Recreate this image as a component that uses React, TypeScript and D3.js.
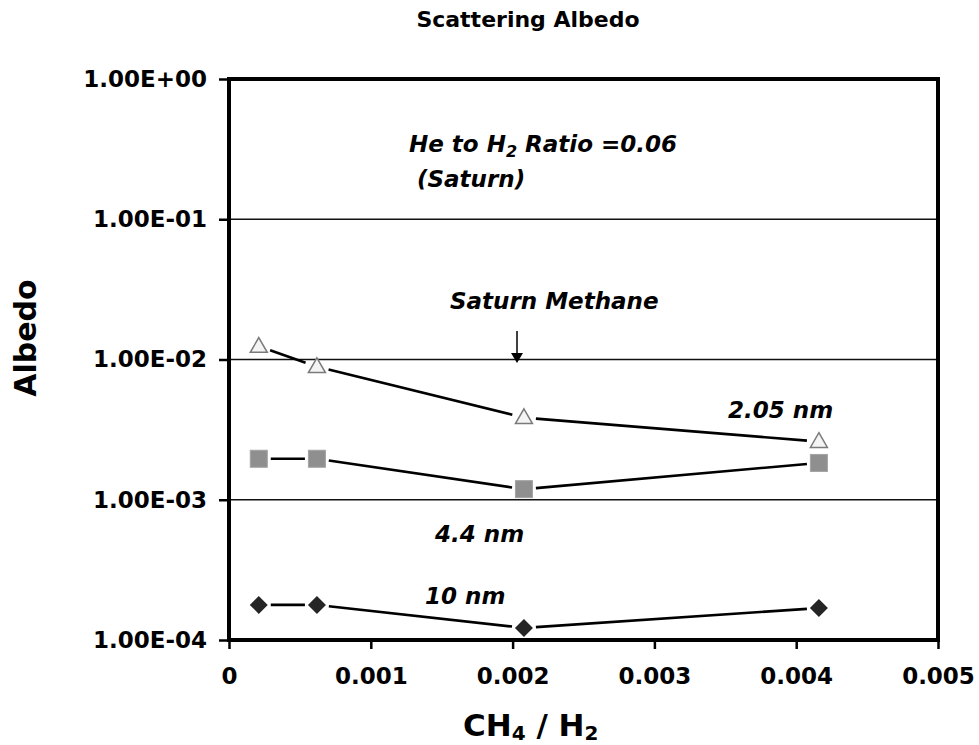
import { useRef, useEffect } from 'react'
import * as d3 from 'd3'

// CH4 / H2 mixing ratios
const ratios = [0.00021, 0.00062, 0.00208, 0.00416]

// albedo per particle size
const albedo205 = [0.0124, 0.0089, 0.00385, 0.0026]
const albedo44 = [0.00196, 0.00196, 0.00119, 0.00183]
const albedo10 = [0.000178, 0.000178, 0.000122, 0.000169]

const yTicks = [1e-4, 1e-3, 1e-2, 1e-1, 1]
const yTickLabels = ['1.00E-04', '1.00E-03', '1.00E-02', '1.00E-01', '1.00E+00']
const xTicks = [0, 0.001, 0.002, 0.003, 0.004, 0.005]
const xTickLabels = ['0', '0.001', '0.002', '0.003', '0.004', '0.005']

const FONT = '"DejaVu Sans", Verdana, sans-serif'

export default function App() {
  const svgRef = useRef<SVGSVGElement>(null)

  useEffect(() => {
    if (!svgRef.current) return
    const width = 979
    const height = 745
    const left = 229, right = 938, top = 79, bottom = 640

    const svg = d3.select(svgRef.current)
    svg.selectAll('*').remove()
    svg.attr('width', width).attr('height', height)

    svg.append('rect').attr('width', width).attr('height', height).attr('fill', '#fff')

    const x = d3.scaleLinear().domain([0, 0.005]).range([left, right])
    const y = d3.scaleLog().domain([1e-4, 1]).range([bottom, top])

    // gridlines
    svg.append('g')
      .selectAll('line')
      .data(yTicks.slice(1, 4))
      .enter()
      .append('line')
      .attr('x1', left).attr('x2', right)
      .attr('y1', d => y(d)).attr('y2', d => y(d))
      .attr('stroke', '#111').attr('stroke-width', 1.5)

    // y axis
    const yAxis = d3.axisLeft(y)
      .tickValues(yTicks)
      .tickSize(10)
      .tickPadding(12)
      .tickFormat((_, i) => yTickLabels[i])
    const gy = svg.append('g').attr('transform', `translate(${left},0)`).call(yAxis)
    gy.select('.domain').remove()
    gy.selectAll('.tick line').attr('stroke', '#000').attr('stroke-width', 2.5)
    gy.selectAll('.tick text')
      .attr('font-family', FONT).attr('font-weight', 'bold')
      .attr('font-size', 23).attr('fill', '#000')

    // x axis
    const xAxis = d3.axisBottom(x)
      .tickValues(xTicks)
      .tickSize(9)
      .tickPadding(19)
      .tickFormat((_, i) => xTickLabels[i])
    const gx = svg.append('g').attr('transform', `translate(0,${bottom})`).call(xAxis)
    gx.select('.domain').remove()
    gx.selectAll('.tick line').attr('stroke', '#000').attr('stroke-width', 2.5)
    gx.selectAll('.tick text')
      .attr('font-family', FONT).attr('font-weight', 'bold')
      .attr('font-size', 23).attr('fill', '#000')

    // plot frame
    svg.append('rect')
      .attr('x', left).attr('y', top)
      .attr('width', right - left).attr('height', bottom - top)
      .attr('fill', 'none').attr('stroke', '#000').attr('stroke-width', 4)

    // series lines, trimmed short of markers
    const drawSeries = (vals: number[]) => {
      const pts = ratios.map((r, i) => [x(r), y(vals[i])] as [number, number])
      const gap = 12
      for (let i = 0; i < pts.length - 1; i++) {
        const [x1, y1] = pts[i]
        const [x2, y2] = pts[i + 1]
        const len = Math.hypot(x2 - x1, y2 - y1)
        const ux = (x2 - x1) / len, uy = (y2 - y1) / len
        svg.append('line')
          .attr('x1', x1 + ux * gap).attr('y1', y1 + uy * gap)
          .attr('x2', x2 - ux * gap).attr('y2', y2 - uy * gap)
          .attr('stroke', '#000').attr('stroke-width', 2.6)
      }
      return pts
    }

    const triPts = drawSeries(albedo205)
    const sqPts = drawSeries(albedo44)
    const diaPts = drawSeries(albedo10)

    svg.append('g').selectAll('path')
      .data(triPts).enter().append('path')
      .attr('d', d3.symbol().type(d3.symbolTriangle).size(125)()!)
      .attr('transform', d => `translate(${d[0]},${d[1] + 1})`)
      .attr('fill', '#f4f4f4').attr('stroke', '#7a7a7a').attr('stroke-width', 1.5)

    svg.append('g').selectAll('rect')
      .data(sqPts).enter().append('rect')
      .attr('x', d => d[0] - 8.5).attr('y', d => d[1] - 8.5)
      .attr('width', 17).attr('height', 17)
      .attr('fill', '#8f8f8f').attr('stroke', '#a3a3a3').attr('stroke-width', 1)

    svg.append('g').selectAll('path')
      .data(diaPts).enter().append('path')
      .attr('d', 'M0,-9L9,0L0,9L-9,0Z')
      .attr('transform', d => `translate(${d[0]},${d[1]})`)
      .attr('fill', '#252525')

    // title
    svg.append('text')
      .attr('x', 528).attr('y', 27)
      .attr('text-anchor', 'middle')
      .attr('font-family', FONT).attr('font-weight', 'bold').attr('font-size', 22)
      .text('Scattering Albedo')

    // axis titles
    svg.append('text')
      .attr('transform', 'translate(36,338) rotate(-90)')
      .attr('text-anchor', 'middle')
      .attr('font-family', FONT).attr('font-weight', 'bold').attr('font-size', 30)
      .text('Albedo')

    const xl = svg.append('text')
      .attr('x', 463).attr('y', 736)
      .attr('font-family', FONT).attr('font-weight', 'bold').attr('font-size', 31)
    xl.append('tspan').text('CH')
    xl.append('tspan').attr('font-size', 20).attr('dy', 4).text('4')
    xl.append('tspan').attr('dy', -4).text(' / H')
    xl.append('tspan').attr('font-size', 20).attr('dy', 4).text('2')

    // annotations
    const note = (tx: number, ty: number) => svg.append('text')
      .attr('x', tx).attr('y', ty)
      .attr('font-family', FONT).attr('font-weight', 'bold')
      .attr('font-style', 'italic').attr('font-size', 23)

    const he = note(409, 152)
    he.append('tspan').text('He to H')
    he.append('tspan').attr('font-size', 16).attr('dy', 5).text('2')
    he.append('tspan').attr('dy', -5).text(' Ratio =0.06')
    note(417, 187).text('(Saturn)')
    note(450, 309).text('Saturn Methane')
    note(728, 418).text('2.05 nm')
    note(435, 542).text('4.4 nm')
    note(425, 604).text('10 nm')

    // arrow to Saturn methane ratio
    svg.append('line')
      .attr('x1', 517).attr('y1', 331).attr('x2', 517).attr('y2', 354)
      .attr('stroke', '#000').attr('stroke-width', 1.5)
    svg.append('path')
      .attr('d', 'M511,353L523,353L517,363Z')
      .attr('fill', '#000')
  }, [])

  return (
    <svg
      ref={svgRef}
      width={979}
      height={745}
      style={{ position: 'absolute', left: 0, top: 0, display: 'block' }}
    />
  )
}
